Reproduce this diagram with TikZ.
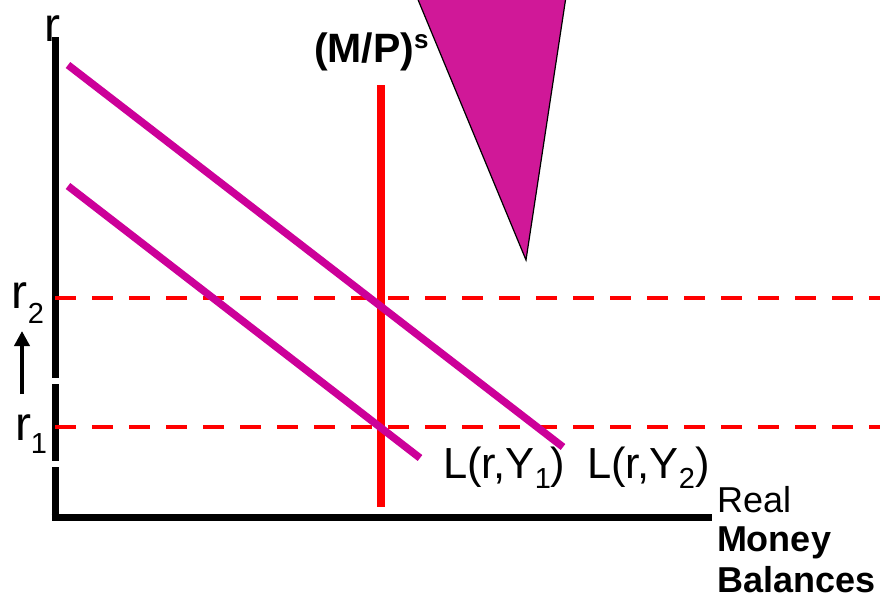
\documentclass[tikz,border=0pt]{standalone}
\usepackage{fontspec}
\setmainfont{Liberation Sans}
\usetikzlibrary{arrows.meta}
\definecolor{curvemag}{RGB}{204,0,153}
\definecolor{trimag}{RGB}{208,24,152}
\definecolor{pptred}{RGB}{255,0,0}
\tikzset{
  axisline/.style={line width=7pt,black},
  curveline/.style={line width=7.5pt,curvemag},
  supplyline/.style={line width=8pt,pptred},
  rateline/.style={line width=4pt,pptred,dash pattern=on 21pt off 16pt},
  lbl/.style={anchor=base west,inner sep=0pt,outer sep=0pt},
}
\newcommand{\bigfs}{\fontsize{48}{56}\selectfont}
\newcommand{\midfs}{\fontsize{43.5}{50}\selectfont}
\newcommand{\subfs}{\fontsize{29}{32}\selectfont}
\newcommand{\axfs}{\fontsize{36}{42}\selectfont}
\begin{document}
\begin{tikzpicture}[x=1pt,y=-1pt]
\useasboundingbox (0,0) rectangle (880,603);
\fill[white] (0,0) rectangle (880,603);
% triangle
\coordinate (tA) at (414,-10);
\coordinate (tB) at (567,-10);
\coordinate (tC) at (526,260);
\filldraw[fill=trimag,draw=black,line width=1.2pt] (tA) -- (tB) -- (tC) -- cycle;
% axes
\coordinate (yTop) at (55,37);
\coordinate (yG1) at (55,378);
\coordinate (yG2) at (55,384);
\coordinate (yG3) at (55,461);
\coordinate (yG4) at (55,467);
\coordinate (orig) at (55,517);
\coordinate (xEnd) at (712,517);
\draw[axisline] (yTop) -- (yG1);
\draw[axisline] (yG2) -- (yG3);
\draw[axisline] (yG4) -- (orig);
\draw[axisline] (51.5,517) -- (xEnd);
% dashed rate lines
\coordinate (r2a) at (55,298);
\coordinate (r2b) at (880,298);
\coordinate (r1a) at (55,427);
\coordinate (r1b) at (880,427);
\draw[rateline] (r2a) -- (r2b);
\draw[rateline] (r1a) -- (r1b);
% money supply
\coordinate (msTop) at (381,85);
\coordinate (msBot) at (381,507);
\draw[supplyline] (msTop) -- (msBot);
% demand curves
\coordinate (l2a) at (68,65);
\coordinate (l2b) at (563,447);
\coordinate (l1a) at (68,186);
\coordinate (l1b) at (420,458);
\draw[curveline] (l2a) -- (l2b);
\draw[curveline] (l1a) -- (l1b);
% arrow
\coordinate (arB) at (22,394);
\coordinate (arT) at (22,331);
\draw[line width=4.5pt,-{Triangle[length=15pt,width=15pt]}] (arB) -- (arT);
% labels
\node[lbl] (rlab) at (44,41) {\bigfs r};
\node[lbl] (r2lab) at (12,308) {\bigfs r\raisebox{-15pt}{\subfs 2}};
\node[lbl] (r1lab) at (15,440) {\bigfs r\raisebox{-13pt}{\subfs 1}};
\node[lbl] (mplab) at (314,62) {\fontsize{41}{48}\selectfont\bfseries (M/P)\raisebox{14pt}{\fontsize{26}{30}\selectfont s}};
\node[lbl] (ly1) at (443,478) {\midfs L(r,Y\raisebox{-10pt}{\subfs 1})};
\node[lbl] (ly2) at (587,478) {\midfs L(r,Y\raisebox{-10pt}{\subfs 2})};
\node[lbl] (real) at (717,512) {\axfs Real};
\node[lbl] (money) at (717,551) {\axfs\bfseries Money};
\node[lbl] (bal) at (717,592) {\axfs\bfseries Balances};
\end{tikzpicture}
\end{document}
